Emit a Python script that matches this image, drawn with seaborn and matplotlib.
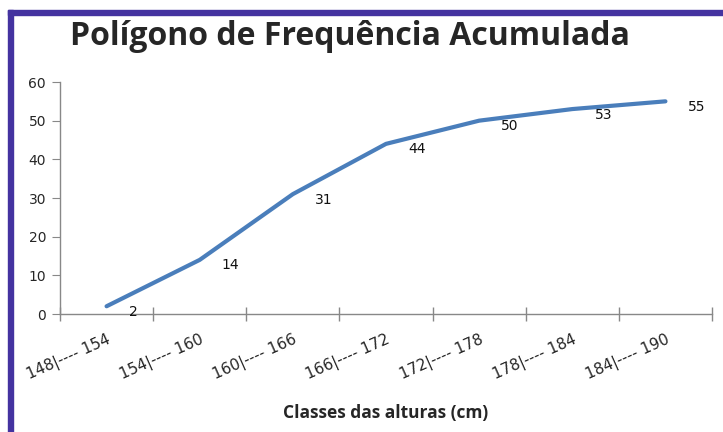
import matplotlib.pyplot as plt
import seaborn as sns
import pandas as pd
from matplotlib.patches import Rectangle

classes = ["148|---- 154", "154|---- 160", "160|---- 166", "166|---- 172",
           "172|---- 178", "178|---- 184", "184|---- 190"]
freq_acum = [2, 14, 31, 44, 50, 53, 55]

df = pd.DataFrame({"pos": range(len(classes)), "classe": classes, "fac": freq_acum})

sns.set_style("white")
plt.rcParams["font.family"] = ["DejaVu Sans"]

fig = plt.figure(figsize=(7.23, 4.32), dpi=100)
ax = fig.add_axes([60 / 723, 1 - 314 / 432, 652 / 723, 232 / 432])

sns.lineplot(data=df, x="pos", y="fac", ax=ax, color="#4a7ebb", linewidth=3,
             solid_capstyle="round")

for p, v in zip(df["pos"], df["fac"]):
    ax.annotate(str(v), (p, v), xytext=(16, -4), textcoords="offset points",
                ha="left", va="center", fontsize=10, color="#111111")

ax.set_xlim(-0.5, len(classes) - 0.5)
ax.set_ylim(0, 60)
ax.set_yticks(range(0, 61, 10))
ax.set_xticks(range(len(classes)))
ax.set_xticklabels(classes, rotation=24, ha="right", rotation_mode="anchor",
                   fontsize=11)
ax.set_xticks([i - 0.5 for i in range(len(classes) + 1)], minor=True)
ax.tick_params(axis="x", which="major", length=0, pad=13, bottom=True)
ax.tick_params(axis="x", which="minor", length=10, direction="inout",
               color="#888888", width=1, bottom=True)
ax.tick_params(axis="y", which="major", length=6, direction="out",
               color="#888888", labelsize=10, pad=4, left=True)
ax.set_xlabel("Classes das alturas (cm)", fontsize=12.5, fontweight="bold",
              family=["Open Sans", "DejaVu Sans"], labelpad=15)
ax.set_ylabel("")
for s in ["top", "right"]:
    ax.spines[s].set_visible(False)
for s in ["left", "bottom"]:
    ax.spines[s].set_color("#888888")
    ax.spines[s].set_linewidth(1)

fig.text(350 / 723, 1 - 45 / 432, "Polígono de Frequência Acumulada",
         ha="center", va="baseline", fontsize=23, fontweight="bold",
         family=["Open Sans", "DejaVu Sans"])

# slide border
fig.patches.append(Rectangle((8 / 723, 0), 5 / 723, 1 - 10 / 432,
                             transform=fig.transFigure, color="#4433a0"))
fig.patches.append(Rectangle((8 / 723, 1 - 15 / 432), 1 - 8 / 723, 5 / 432,
                             transform=fig.transFigure, color="#4433a0"))

fig.savefig("out.png", dpi=100)
